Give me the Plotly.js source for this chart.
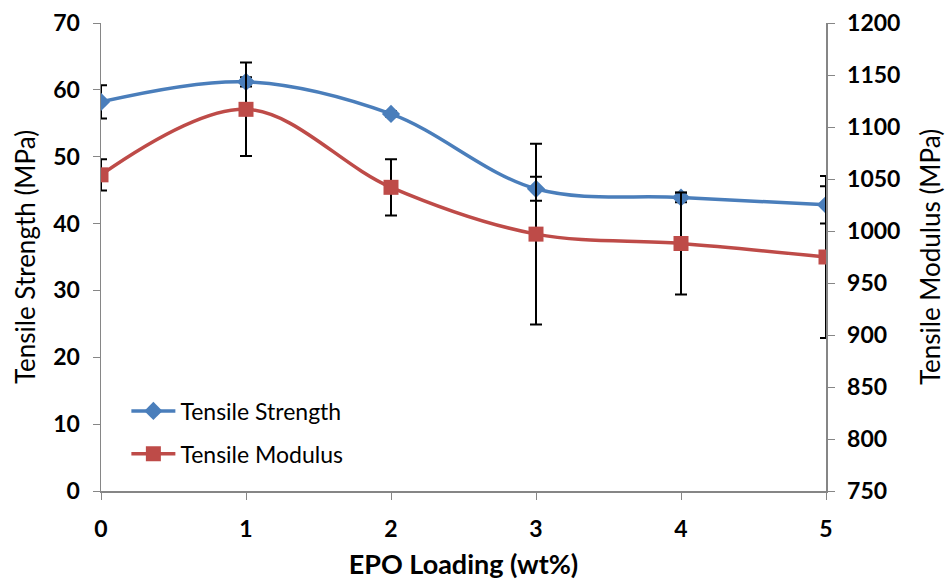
<!DOCTYPE html>
<html>
<head>
<meta charset="utf-8">
<script src="https://cdn.plot.ly/plotly-3.0.1.min.js"></script>
<style>html,body{margin:0;padding:0;background:#fff;}#chart{width:950px;height:580px;}</style>
</head>
<body>
<div id="chart"></div>
<script>
var epoLoading = [0, 1, 2, 3, 4, 5];
var tensileStrength = [58.2, 61.2, 56.4, 45.2, 43.9, 42.8];
var strengthError = [2.5, 0.7, 0.4, 1.8, 0.7, 2.8];
var tensileModulus = [1054, 1117, 1042, 997, 988, 975];
var modulusError = [15, 45, 27, 87, 49, 78];
var xTicks = [0, 1, 2, 3, 4, 5];

var fontFam = 'Lato, "Open Sans", "DejaVu Sans", sans-serif';
var axisGray = '#868686';

var errStyle = {type: 'data', visible: true, color: '#000000', thickness: 2, width: 6};

var traces = [
  {
    x: epoLoading, y: tensileModulus, name: 'Tensile Modulus', yaxis: 'y2',
    legendgroup: 'modulus', legendrank: 2,
    mode: 'lines+markers', type: 'scatter',
    line: {color: '#BE4B48', width: 3.5, shape: 'spline'},
    marker: {symbol: 'square', size: 15, color: '#BE4B48'},
    error_y: Object.assign({array: modulusError}, errStyle)
  },
  {
    x: epoLoading, y: tensileStrength, name: 'Tensile Strength',
    legendgroup: 'strength', legendrank: 1,
    mode: 'lines+markers', type: 'scatter',
    line: {color: '#4A7EBB', width: 3.5, shape: 'spline'},
    marker: {symbol: 'diamond', size: 14, color: '#4A7EBB'},
    error_y: Object.assign({array: strengthError}, errStyle)
  }
];

var layout = {
  width: 950, height: 580,
  margin: {l: 101, r: 124, t: 23, b: 89},
  paper_bgcolor: '#ffffff', plot_bgcolor: '#ffffff',
  font: {family: fontFam, color: '#000000'},
  showlegend: true,
  legend: {
    x: 0.035, y: 0.217, xanchor: 'left', yanchor: 'top',
    traceorder: 'grouped',
    font: {family: fontFam, size: 23, color: '#000000'},
    bgcolor: 'rgba(0,0,0,0)', itemwidth: 44, tracegroupgap: 10
  },
  xaxis: {
    range: [0, 5], tickvals: xTicks, ticktext: xTicks.map(String),
    showgrid: false, zeroline: false,
    showline: true, linecolor: axisGray, linewidth: 1.5,
    ticks: 'outside', ticklen: 7, tickcolor: axisGray,
    ticklabelstandoff: 10,
    tickfont: {family: fontFam, size: 23, color: '#000000', weight: 'bold'},
    title: {text: 'EPO Loading (wt%)', font: {family: fontFam, size: 27, color: '#000000', weight: 'bold'}, standoff: 18},
    automargin: false
  },
  yaxis: {
    range: [0, 70], dtick: 10, tick0: 0,
    showgrid: false, zeroline: false,
    showline: true, linecolor: axisGray, linewidth: 1.5,
    ticks: 'outside', ticklen: 7, tickcolor: axisGray,
    ticklabelstandoff: 8,
    tickfont: {family: fontFam, size: 23, color: '#000000', weight: 'bold'},
    title: {text: 'Tensile Strength (MPa)', font: {family: fontFam, size: 26, color: '#000000'}, standoff: 10},
    automargin: false
  },
  yaxis2: {
    range: [750, 1200], dtick: 50, tick0: 750,
    overlaying: 'y', side: 'right', anchor: 'x',
    showgrid: false, zeroline: false,
    showline: true, linecolor: axisGray, linewidth: 1.5,
    ticks: 'outside', ticklen: 7, tickcolor: axisGray,
    ticklabelstandoff: 8,
    tickfont: {family: fontFam, size: 23, color: '#000000', weight: 'bold'},
    title: {text: 'Tensile Modulus (MPa)', font: {family: fontFam, size: 26, color: '#000000'}, standoff: 22},
    automargin: false
  }
};

Plotly.newPlot('chart', traces, layout, {displayModeBar: false, staticPlot: true});
</script>
</body>
</html>
